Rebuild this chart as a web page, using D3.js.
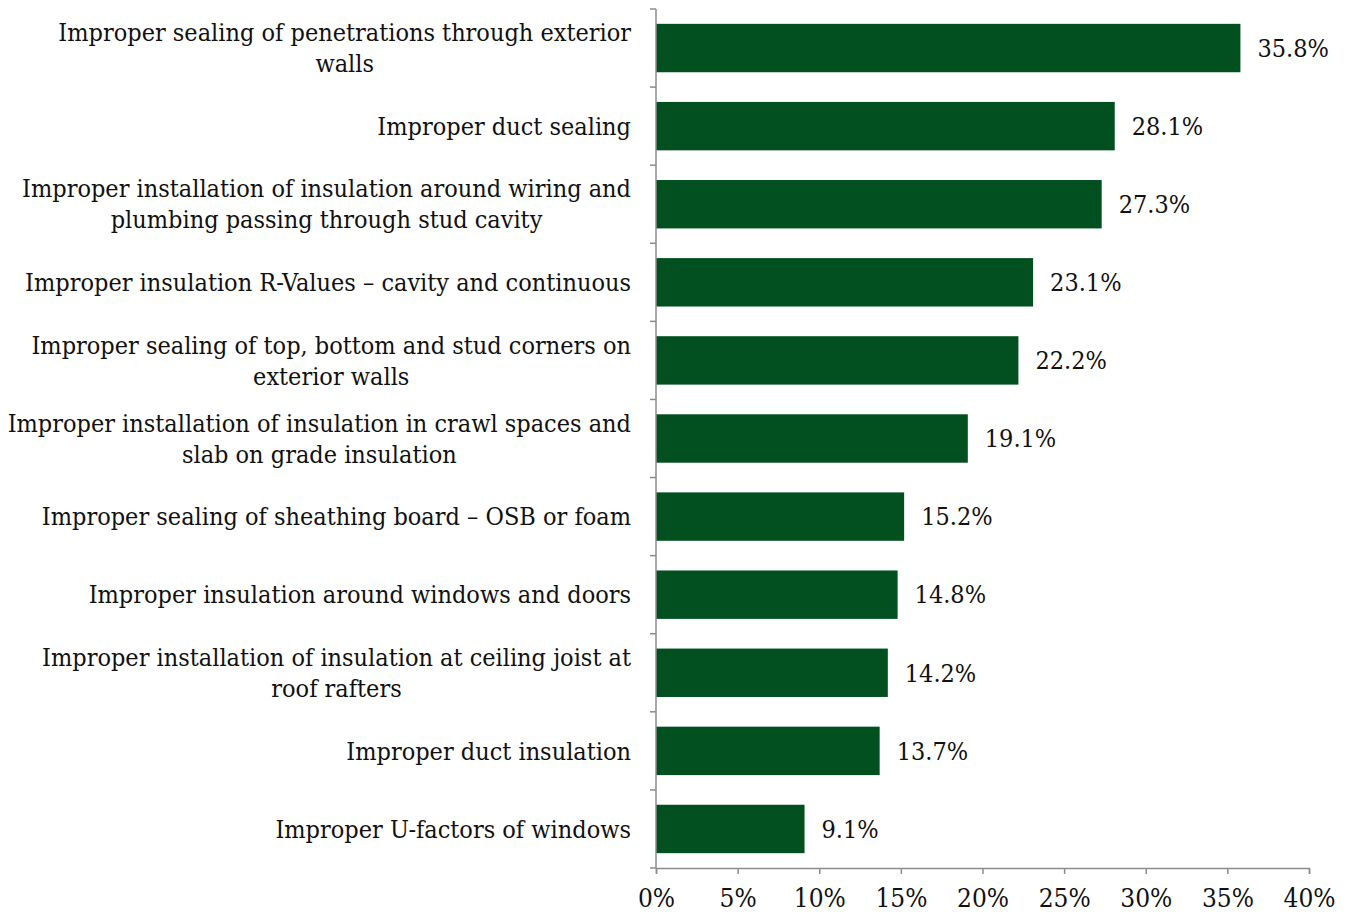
<!DOCTYPE html>
<html>
<head>
<meta charset="utf-8">
<script src="https://cdn.jsdelivr.net/npm/d3@7"></script>
<style>
  html, body { margin: 0; padding: 0; background: #fff; }
  svg text { font-family: "DejaVu Serif Condensed", "DejaVu Serif", serif; font-stretch: condensed; fill: #111; }
</style>
</head>
<body>
<svg id="chart" width="1352" height="915"></svg>
<script>
// Share of inspected homes with each insulation / air-sealing deficiency
const categories = [
  "Improper sealing of penetrations through exterior walls",
  "Improper duct sealing",
  "Improper installation of insulation around wiring and plumbing passing through stud cavity",
  "Improper insulation R-Values \u2013 cavity and continuous",
  "Improper sealing of top, bottom and stud corners on exterior walls",
  "Improper installation of insulation in crawl spaces and slab on grade insulation",
  "Improper sealing of sheathing board \u2013 OSB or foam",
  "Improper insulation around windows and doors",
  "Improper installation of insulation at ceiling joist at roof rafters",
  "Improper duct insulation",
  "Improper U-factors of windows"
];
// Wrapped label lines
const labelLines = [
  ["Improper sealing of penetrations through exterior", "walls"],
  ["Improper duct sealing"],
  ["Improper installation of insulation around wiring and", "plumbing passing through stud cavity"],
  ["Improper insulation R-Values \u2013 cavity and continuous"],
  ["Improper sealing of top, bottom and stud corners on", "exterior walls"],
  ["Improper installation of insulation in crawl spaces and", "slab on grade insulation"],
  ["Improper sealing of sheathing board \u2013 OSB or foam"],
  ["Improper insulation around windows and doors"],
  ["Improper installation of insulation at ceiling joist at", "roof rafters"],
  ["Improper duct insulation"],
  ["Improper U-factors of windows"]
];
const values = [35.8, 28.1, 27.3, 23.1, 22.2, 19.1, 15.2, 14.8, 14.2, 13.7, 9.1];
const xTicks = [0, 5, 10, 15, 20, 25, 30, 35, 40];

const svg = d3.select("#chart");
const plotLeft = 656, plotRight = 1309, plotTop = 9, plotBottom = 868;

const x = d3.scaleLinear().domain([0, 40]).range([plotLeft, plotRight]);
const y = d3.scaleBand().domain(categories).range([plotTop, plotBottom]).paddingInner(0.38).paddingOuter(0.19);
const step = y.step();
const axisColor = "#8c8c8c";

// Bars
svg.append("g").selectAll("rect")
  .data(values)
  .join("rect")
  .attr("x", x(0))
  .attr("y", (d, i) => y(categories[i]))
  .attr("width", d => x(d) - x(0))
  .attr("height", y.bandwidth())
  .attr("fill", "#025020");

// Value labels
svg.append("g").selectAll("text")
  .data(values)
  .join("text")
  .attr("x", d => x(d) + 17)
  .attr("y", (d, i) => y(categories[i]) + y.bandwidth() / 2)
  .attr("dy", "0.35em")
  .attr("font-size", 25)
  .text(d => d.toFixed(1) + "%");

// Y axis line with ticks at band boundaries
const yAxis = svg.append("g");
yAxis.append("line")
  .attr("x1", plotLeft).attr("x2", plotLeft)
  .attr("y1", plotTop).attr("y2", plotBottom)
  .attr("stroke", axisColor).attr("stroke-width", 1.5);
d3.range(categories.length + 1).forEach(i => {
  const yy = plotTop + i * step;
  yAxis.append("line")
    .attr("x1", plotLeft - 6).attr("x2", plotLeft)
    .attr("y1", yy).attr("y2", yy)
    .attr("stroke", axisColor).attr("stroke-width", 1.5);
});

// X axis
const xAxis = d3.axisBottom(x)
  .tickValues(xTicks)
  .tickSize(6)
  .tickFormat(d => d + "%");
const gx = svg.append("g").attr("transform", `translate(0,${plotBottom})`).call(xAxis);
gx.select(".domain").attr("stroke", axisColor).attr("stroke-width", 1.5);
gx.selectAll(".tick line").attr("stroke", axisColor).attr("stroke-width", 1.5);
gx.selectAll(".tick text")
  .attr("font-family", "Liberation Serif, serif")
  .attr("font-size", 26)
  .attr("fill", "#111")
  .attr("y", 21);

// Category labels: block right-aligned to the axis, lines centred within the block
const labelRight = 631;
const gl = svg.append("g");
labelLines.forEach((lines, i) => {
  const cy = y(categories[i]) + y.bandwidth() / 2;
  const g = gl.append("g");
  const texts = lines.map((ln, j) =>
    g.append("text")
      .attr("font-size", 25)
      .attr("y", cy + (j - (lines.length - 1) / 2) * 31)
      .attr("dy", "0.35em")
      .text(ln));
  const widths = texts.map(t => t.node().getComputedTextLength());
  const maxW = d3.max(widths);
  texts.forEach(t => t.attr("x", labelRight - maxW / 2).attr("text-anchor", "middle"));
});
</script>
</body>
</html>
